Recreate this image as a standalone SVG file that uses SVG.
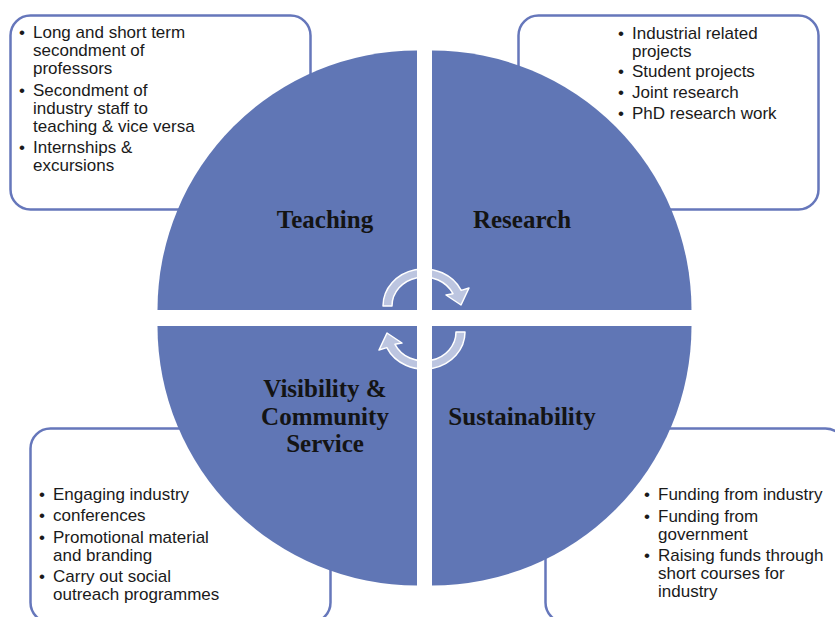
<svg xmlns="http://www.w3.org/2000/svg" width="835" height="617" viewBox="0 0 835 617">
  <style>
    .box { fill: #ffffff; stroke: #6677BB; stroke-width: 2.5; }
    .quad { fill: #6076B5; }
    .item { font-family: "Liberation Sans", Arial, sans-serif; font-size: 17px; fill: #1a1a1a; }
    .label { font-family: "Liberation Serif", "Times New Roman", serif; font-size: 25px; font-weight: bold; fill: #141414; text-anchor: middle; }
    .cycle { fill: #ffffff; fill-opacity: 0.58; stroke: #ffffff; stroke-width: 1.5; stroke-linejoin: round; }
  </style>
  <rect width="835" height="617" fill="#ffffff"/>

  <!-- detail boxes sit behind the disc -->
  <g id="teaching-details">
    <rect class="box" x="10.5" y="15.5" width="300" height="194" rx="20"/>
    <text class="item">
      <tspan x="19" y="38">•</tspan><tspan x="33" y="38">Long and short term</tspan>
      <tspan x="33" y="56">secondment of</tspan>
      <tspan x="33" y="74">professors</tspan>
      <tspan x="19" y="96">•</tspan><tspan x="33" y="96">Secondment of</tspan>
      <tspan x="33" y="114">industry staff to</tspan>
      <tspan x="33" y="132">teaching &amp; vice versa</tspan>
      <tspan x="19" y="153">•</tspan><tspan x="33" y="153">Internships &amp;</tspan>
      <tspan x="33" y="171">excursions</tspan>
    </text>
  </g>
  <g id="research-details">
    <rect class="box" x="518.5" y="15.5" width="300" height="194" rx="20"/>
    <text class="item">
      <tspan x="618" y="39">•</tspan><tspan x="632" y="39">Industrial related</tspan>
      <tspan x="632" y="57">projects</tspan>
      <tspan x="618" y="77">•</tspan><tspan x="632" y="77">Student projects</tspan>
      <tspan x="618" y="98">•</tspan><tspan x="632" y="98">Joint research</tspan>
      <tspan x="618" y="119">•</tspan><tspan x="632" y="119">PhD research work</tspan>
    </text>
  </g>
  <g id="visibility-details">
    <rect class="box" x="30.5" y="428.5" width="300" height="194" rx="20"/>
    <text class="item">
      <tspan x="39" y="500">•</tspan><tspan x="53" y="500">Engaging industry</tspan>
      <tspan x="39" y="521">•</tspan><tspan x="53" y="521">conferences</tspan>
      <tspan x="39" y="543">•</tspan><tspan x="53" y="543">Promotional material</tspan>
      <tspan x="53" y="561">and branding</tspan>
      <tspan x="39" y="582">•</tspan><tspan x="53" y="582">Carry out social</tspan>
      <tspan x="53" y="600">outreach programmes</tspan>
    </text>
  </g>
  <g id="sustainability-details">
    <rect class="box" x="545.5" y="428.5" width="300" height="194" rx="20"/>
    <text class="item">
      <tspan x="644" y="500">•</tspan><tspan x="658" y="500">Funding from industry</tspan>
      <tspan x="644" y="522">•</tspan><tspan x="658" y="522">Funding from</tspan>
      <tspan x="658" y="540">government</tspan>
      <tspan x="644" y="561">•</tspan><tspan x="658" y="561">Raising funds through</tspan>
      <tspan x="658" y="579">short courses for</tspan>
      <tspan x="658" y="597">industry</tspan>
    </text>
  </g>

  <!-- four quarter discs -->
  <g id="teaching">
    <path class="quad" d="M417,310 L417,50.5 A259.5,259.5 0 0 0 157.5,310 Z"/>
    <text class="label" x="325" y="228">Teaching</text>
  </g>
  <g id="research">
    <path class="quad" d="M432,310 L432,50.5 A259.5,259.5 0 0 1 691.5,310 Z"/>
    <text class="label" x="522" y="228">Research</text>
  </g>
  <g id="visibility">
    <path class="quad" d="M417,326 L157.5,326 A259.5,259.5 0 0 0 417,585.5 Z"/>
    <text class="label" x="325" y="397">Visibility &amp;</text>
    <text class="label" x="325" y="425">Community</text>
    <text class="label" x="325" y="452">Service</text>
  </g>
  <g id="sustainability">
    <path class="quad" d="M432,326 L691.5,326 A259.5,259.5 0 0 1 432,585.5 Z"/>
    <text class="label" x="522" y="425">Sustainability</text>
  </g>

  <!-- cycle arrows in the centre -->
  <g id="connectors">
    <path class="cycle" d="M383,306 A41,37 0 0 1 461.2,290.4 L469,288 L461,305 L446,295 L453,293.7 A32,29 0 0 0 392,306 Z"/>
    <path class="cycle" transform="rotate(180 424 319)" d="M383,306 A41,37 0 0 1 461.2,290.4 L469,288 L461,305 L446,295 L453,293.7 A32,29 0 0 0 392,306 Z"/>
  </g>
</svg>
